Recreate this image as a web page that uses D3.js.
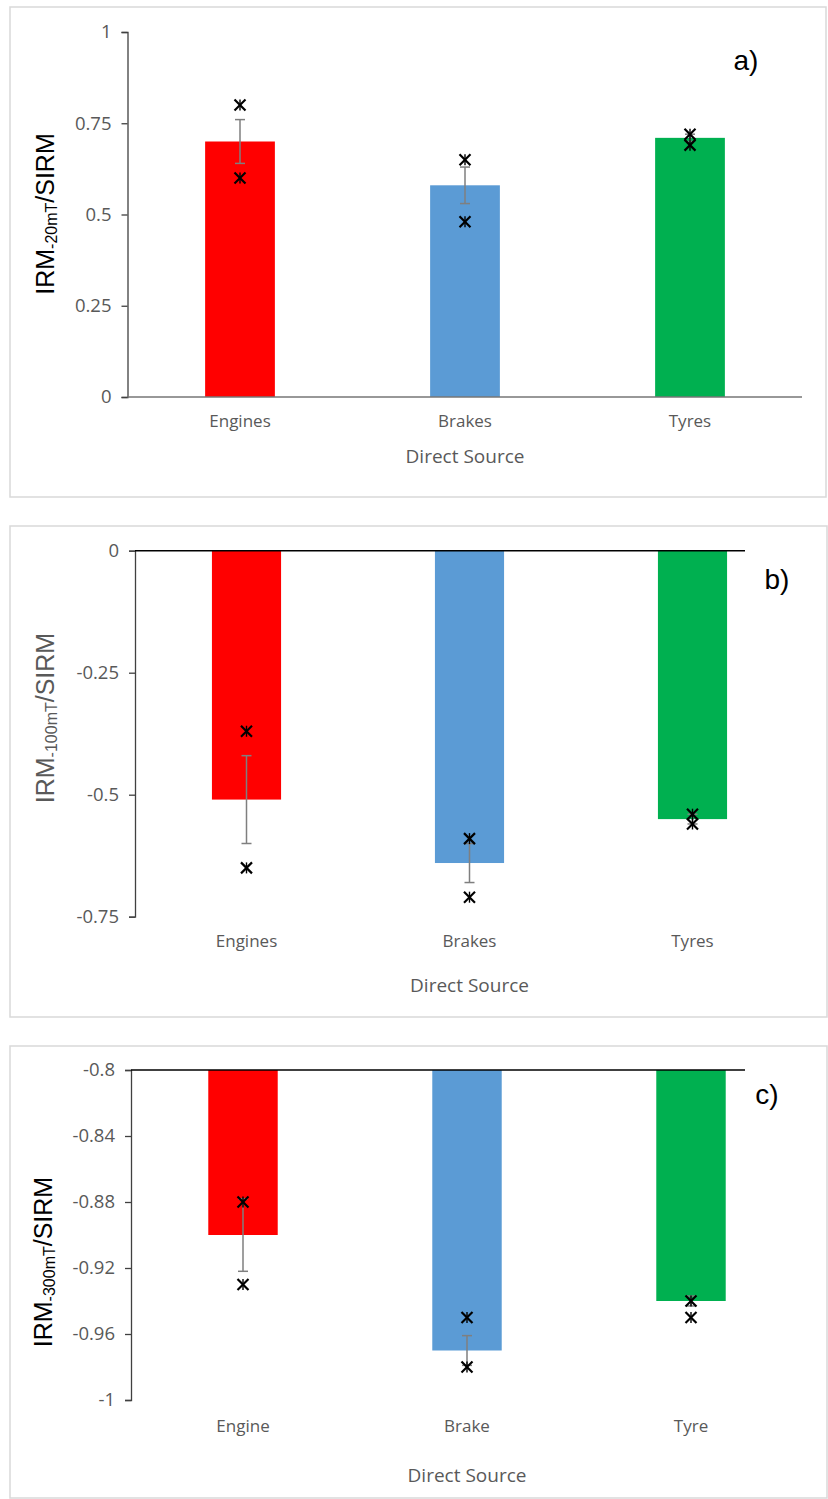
<!DOCTYPE html>
<html>
<head>
<meta charset="utf-8">
<script src="https://cdn.jsdelivr.net/npm/d3@7"></script>
<style>
  body { margin: 0; background: #fff; }
  svg { display: block; }
</style>
</head>
<body>
<div id="chart"></div>
<script>
// values
const sourcesAB = ["Engines", "Brakes", "Tyres"];
const sourcesC = ["Engine", "Brake", "Tyre"];
const barColours = ["#ff0000", "#5b9bd5", "#00b050"];

const meanA = [0.70, 0.58, 0.71];
const errA = [0.06, 0.05, 0.01];
const pointsA = [[0.80, 0.60], [0.65, 0.48], [0.72, 0.69]];
const ticksA = [0, 0.25, 0.5, 0.75, 1];

const meanB = [-0.51, -0.64, -0.55];
const errB = [0.09, 0.04, 0.01];
const pointsB = [[-0.37, -0.65], [-0.59, -0.71], [-0.54, -0.56]];
const ticksB = [-0.75, -0.5, -0.25, 0];

const meanC = [-0.90, -0.97, -0.94];
const errC = [0.022, 0.009, 0.003];
const pointsC = [[-0.88, -0.93], [-0.95, -0.98], [-0.94, -0.95]];
const ticksC = [-1, -0.96, -0.92, -0.88, -0.84, -0.8];

const W = 828, H = 1499;
const svg = d3.select("#chart").append("svg")
    .attr("width", W)
    .attr("height", H);

const panels = [
    {box: [10, 7, 816, 490], x: [127.5, 802.5], y: [397, 32], domain: [0, 1], base: 0,
     baseEnd: 802, baseColour: "#767676", cats: sourcesAB, mean: meanA, err: errA, pts: pointsA,
     ticks: ticksA, labY: 422, titleY: 458, sub: "-20mT", yTitle: [47, 214], yTitleColour: "#000",
     tag: "a)", tagPos: [746, 70]},
    {box: [10, 526, 817, 491], x: [135, 804], y: [916.7, 550.7], domain: [-0.75, 0], base: 0,
     baseEnd: 745, baseColour: "#000", cats: sourcesAB, mean: meanB, err: errB, pts: pointsB,
     ticks: ticksB, labY: 942, titleY: 987, sub: "-100mT", yTitle: [47, 718], yTitleColour: "#595959",
     tag: "b)", tagPos: [777, 589]},
    {box: [10, 1046, 817, 452], x: [131, 803], y: [1400, 1070], domain: [-1, -0.8], base: -0.8,
     baseEnd: 745, baseColour: "#000", cats: sourcesC, mean: meanC, err: errC, pts: pointsC,
     ticks: ticksC, labY: 1427, titleY: 1477, sub: "-300mT", yTitle: [45, 1262], yTitleColour: "#000",
     tag: "c)", tagPos: [767, 1104]}
];

panels.forEach(p => drawPanel(p));

function drawPanel(p) {
    const g = svg.append("g");

    // chart area frame
    g.append("rect")
        .attr("x", p.box[0]).attr("y", p.box[1])
        .attr("width", p.box[2]).attr("height", p.box[3])
        .attr("fill", "#fff")
        .attr("stroke", "#d9d9d9")
        .attr("stroke-width", 1.5);

    const x = d3.scaleBand()
        .domain(p.cats)
        .range(p.x)
        .paddingInner(0.69)
        .paddingOuter(0.345);

    const y = d3.scaleLinear()
        .domain(p.domain)
        .range(p.y);

    const data = p.cats.map((c, i) => ({cat: c, mean: p.mean[i], err: p.err[i], pts: p.pts[i], col: barColours[i]}));

    // bars
    g.selectAll(".bar")
        .data(data)
        .join("rect")
        .attr("class", "bar")
        .attr("x", d => x(d.cat))
        .attr("width", x.bandwidth())
        .attr("y", d => Math.min(y(d.mean), y(p.base)))
        .attr("height", d => Math.abs(y(d.mean) - y(p.base)))
        .attr("fill", d => d.col);

    // y axis
    const yAxis = g.append("g")
        .attr("transform", `translate(${p.x[0]},0)`)
        .call(d3.axisLeft(y).tickValues(p.ticks).tickSize(6).tickPadding(10).tickFormat(d => String(+d.toFixed(2))));
    yAxis.select(".domain").attr("stroke", "#404040").attr("stroke-width", 1.3);
    yAxis.selectAll(".tick line").attr("stroke", "#404040").attr("stroke-width", 1.3);
    yAxis.selectAll(".tick text")
        .attr("fill", "#595959")
        .style("font-family", "'Open Sans', sans-serif")
        .style("font-size", "18.5px");

    // base line
    g.append("line")
        .attr("x1", p.x[0]).attr("x2", p.baseEnd)
        .attr("y1", y(p.base)).attr("y2", y(p.base))
        .attr("stroke", p.baseColour)
        .attr("stroke-width", 1.5);

    // error bars
    const cx = d => x(d.cat) + x.bandwidth() / 2;
    const eb = g.selectAll(".err")
        .data(data)
        .join("g")
        .attr("class", "err")
        .attr("stroke", "#7f7f7f")
        .attr("stroke-width", 1.5);
    eb.append("line")
        .attr("x1", cx).attr("x2", cx)
        .attr("y1", d => y(d.mean + d.err)).attr("y2", d => y(d.mean - d.err));
    [1, -1].forEach(s => {
        eb.append("line")
            .attr("x1", d => cx(d) - 5).attr("x2", d => cx(d) + 5)
            .attr("y1", d => y(d.mean + s * d.err)).attr("y2", d => y(d.mean + s * d.err));
    });

    // individual values, star markers
    const pts = data.flatMap(d => d.pts.map(v => ({cx: cx(d), v: v})));
    const r = 5.5;
    const star = g.selectAll(".pt")
        .data(pts)
        .join("g")
        .attr("class", "pt")
        .attr("transform", d => `translate(${d.cx},${y(d.v)})`)
        .attr("stroke", "#000")
        .attr("stroke-width", 2.2);
    star.append("line").attr("x1", -r).attr("y1", -r).attr("x2", r).attr("y2", r);
    star.append("line").attr("x1", -r).attr("y1", r).attr("x2", r).attr("y2", -r);
    star.append("line").attr("x1", 0).attr("y1", -r).attr("x2", 0).attr("y2", r).attr("stroke-width", 1.4);

    // category labels
    g.selectAll(".cat")
        .data(data)
        .join("text")
        .attr("class", "cat")
        .attr("x", cx)
        .attr("y", p.labY)
        .attr("text-anchor", "middle")
        .attr("dominant-baseline", "middle")
        .attr("fill", "#595959")
        .style("font-family", "'Open Sans', sans-serif")
        .style("font-size", "17px")
        .text(d => d.cat);

    // x title
    g.append("text")
        .attr("x", (p.x[0] + p.x[1]) / 2)
        .attr("y", p.titleY)
        .attr("text-anchor", "middle")
        .attr("dominant-baseline", "middle")
        .attr("fill", "#595959")
        .style("font-family", "'Open Sans', sans-serif")
        .style("font-size", "19px")
        .text("Direct Source");

    // y title with subscript
    const yt = g.append("text")
        .attr("transform", `translate(${p.yTitle[0]},${p.yTitle[1]}) rotate(-90)`)
        .attr("text-anchor", "middle")
        .attr("dominant-baseline", "middle")
        .attr("fill", p.yTitleColour)
        .style("font-family", "'Liberation Sans', Arial, sans-serif")
        .style("font-size", "25px");
    yt.append("tspan").text("IRM");
    yt.append("tspan").attr("dy", 6).style("font-size", "16px").text(p.sub);
    yt.append("tspan").attr("dy", -6).text("/SIRM");

    // panel tag
    g.append("text")
        .attr("x", p.tagPos[0])
        .attr("y", p.tagPos[1])
        .attr("text-anchor", "middle")
        .attr("fill", "#000")
        .style("font-family", "'Liberation Sans', Arial, sans-serif")
        .style("font-size", "28px")
        .text(p.tag);
}
</script>
</body>
</html>
